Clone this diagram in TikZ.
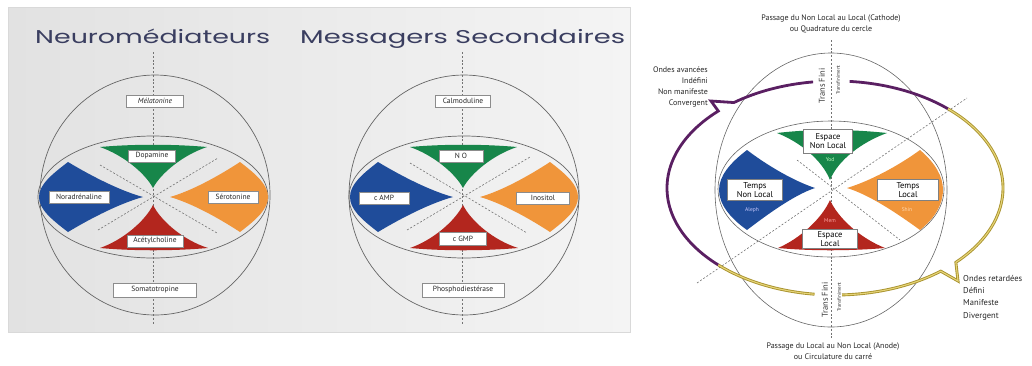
\documentclass[tikz,border=0pt]{standalone}
\usepackage{fontspec}
\usepackage{graphicx}
\setmainfont{PT Sans}
\newfontfamily\titlefont{Poppins}
\usetikzlibrary{calc}

\definecolor{titre}{HTML}{3A3E60}
\definecolor{colVert}{HTML}{17864A}
\definecolor{colBleu}{HTML}{1F4C9A}
\definecolor{colOrange}{HTML}{F0953A}
\definecolor{colRouge}{HTML}{B3261E}
\definecolor{fondG}{HTML}{E2E2E2}
\definecolor{fondD}{HTML}{F4F4F4}
\definecolor{violet}{HTML}{5A1F62}
\definecolor{ocreF}{HTML}{A8922E}
\definecolor{ocreC}{HTML}{E6D477}

\tikzset{
  trait/.style={draw=black!60, line width=0.7pt},
  axe/.style={draw=black!55, dash pattern=on 2pt off 1.8pt, line width=0.6pt},
  etiq/.style={draw=black!45, fill=white, line width=0.5pt, inner sep=1pt,
    minimum height=12pt, font=\fontsize{7.5}{8}\selectfont, text=black!85},
  etiqD/.style={draw=black!50, fill=white, line width=0.5pt, inner sep=1pt,
    align=center, font=\fontsize{8.5}{8.5}\selectfont, text=black},
  lettre/.style={font=\fontsize{5.5}{6}\selectfont, inner sep=0pt},
  texte/.style={font=\fontsize{8}{11}\selectfont, inner sep=0pt, text=black!85},
  vertic/.style={rotate=90, inner sep=0pt, text=black!80},
  avance/.style={draw=violet, line width=2.8pt},
  retard/.style={draw=ocreF, double=ocreC, double distance=1.1pt, line width=0.9pt}
}

\begin{document}
\begin{tikzpicture}[x=1pt, y=-1pt]
\useasboundingbox (0,0) rectangle (1032,365);

% fond gris des deux premiers schemas
\fill[left color=fondG, right color=fondD, draw=black!15] (8,7) rectangle (630,332);

% titres
\node[anchor=base west, inner sep=0pt, text=titre] (t1) at (35,43)
  {\resizebox{235pt}{\height}{\fontsize{18.5}{20}\titlefont Neuromédiateurs}};
\node[anchor=base west, inner sep=0pt, text=titre] (t2) at (300,43)
  {\resizebox{325pt}{\height}{\fontsize{18.5}{20}\titlefont Messagers Secondaires}};

% ---- Neuromediateurs ----
\begin{scope}[shift={(153,197)}]
  \draw[axe] (0,-145) -- (0,128);
  \draw[trait] (2,-2) ellipse [x radius=115, y radius=120];
  \draw[trait] (0,0) ellipse [x radius=115, y radius=61];
  \fill[colVert] (-53,-50) .. controls (-20,-53) and (20,-53) .. (54,-50)
    .. controls (30,-42) and (8,-24) .. (0,-9) .. controls (-8,-24) and (-30,-42) .. cycle;
  \fill[colRouge] (0,8) .. controls (8,24) and (30,43) .. (55,51)
    .. controls (20,54) and (-20,54) .. (-53,51) .. controls (-30,43) and (-8,24) .. cycle;
  \fill[colBleu] (-10,0) .. controls (-32,-6) and (-60,-20) .. (-85,-35)
    .. controls (-102,-22) and (-114,-12) .. (-114,0)
    .. controls (-114,12) and (-102,22) .. (-85,35)
    .. controls (-60,20) and (-32,6) .. cycle;
  \fill[colOrange] (17,0) .. controls (38,-6) and (64,-20) .. (87,-35)
    .. controls (104,-22) and (115,-12) .. (115,0)
    .. controls (115,12) and (104,22) .. (87,35)
    .. controls (64,20) and (38,6) .. cycle;
  \draw[axe] (-53,-32) -- (64,36);
  \draw[axe] (-55,33) -- (65,-39);
  \node[etiq, minimum width=57pt, font=\fontsize{7.5}{8}\selectfont\itshape] (mela) at (2,-96) {Mélatonine};
  \node[etiq, minimum width=47pt] (dopa) at (-1,-41) {Dopamine};
  \node[etiq, minimum width=60pt] (nora) at (-74,0) {Noradrénaline};
  \node[etiq, minimum width=50pt] (sero) at (80,0) {Sérotonine};
  \node[etiq, minimum width=56pt] (acet) at (2,44) {Acétylcholine};
  \node[etiq, minimum width=83pt, minimum height=14pt] (soma) at (2,93) {Somatotropine};
\end{scope}

% ---- Messagers secondaires ----
\begin{scope}[shift={(463,197)}]
  \draw[axe] (-1,-145) -- (-1,128);
  \draw[trait] (1,-2) ellipse [x radius=115, y radius=120];
  \draw[trait] (1,0) ellipse [x radius=115, y radius=61];
  \fill[colVert] (-53,-50) .. controls (-20,-53) and (20,-53) .. (54,-50)
    .. controls (30,-42) and (8,-24) .. (0,-9) .. controls (-8,-24) and (-30,-42) .. cycle;
  \fill[colRouge] (0,8) .. controls (8,24) and (30,43) .. (55,51)
    .. controls (20,54) and (-20,54) .. (-53,51) .. controls (-30,43) and (-8,24) .. cycle;
  \fill[colBleu] (-10,0) .. controls (-32,-6) and (-60,-20) .. (-85,-35)
    .. controls (-102,-22) and (-113,-12) .. (-113,0)
    .. controls (-113,12) and (-102,22) .. (-85,35)
    .. controls (-60,20) and (-32,6) .. cycle;
  \fill[colOrange] (17,0) .. controls (38,-6) and (64,-20) .. (87,-35)
    .. controls (104,-22) and (115,-12) .. (115,0)
    .. controls (115,12) and (104,22) .. (87,35)
    .. controls (64,20) and (38,6) .. cycle;
  \draw[axe] (-53,-34) -- (64,36);
  \draw[axe] (-56,33) -- (67,-40);
  \node[etiq, minimum width=55pt] (calm) at (0,-96) {Calmoduline};
  \node[etiq, minimum width=44pt] (no) at (-2,-41) {N O};
  \node[etiq, minimum width=50pt] (camp) at (-79,1) {c AMP};
  \node[etiq, minimum width=53pt] (inos) at (80,1) {Inositol};
  \node[etiq, minimum width=47pt, minimum height=13pt] (cgmp) at (0,42) {c GMP};
  \node[etiq, minimum width=82pt, minimum height=14pt] (phos) at (0,93) {Phosphodiestérase};
\end{scope}

% ---- Espace / Temps ----
\begin{scope}[shift={(830,188)}]
  \draw[axe] (1,-148) -- (1,150);
  \draw[trait, line width=0.6pt] (1,2) ellipse [x radius=116, y radius=137];
  \draw[trait, line width=0.6pt] (1,1) ellipse [x radius=113, y radius=68];
  \fill[colVert] (-53,-55) .. controls (-20,-59) and (20,-59) .. (57,-55)
    .. controls (32,-46) and (8,-28) .. (0,-8) .. controls (-8,-28) and (-30,-46) .. cycle;
  \fill[colRouge] (0,12) .. controls (8,30) and (30,50) .. (55,60)
    .. controls (20,63) and (-20,63) .. (-52,60) .. controls (-29,50) and (-8,30) .. cycle;
  \fill[colBleu] (-15,0) .. controls (-36,-7) and (-62,-22) .. (-83,-38)
    .. controls (-100,-25) and (-111,-12) .. (-111,2)
    .. controls (-111,16) and (-100,30) .. (-83,42)
    .. controls (-62,26) and (-36,7) .. cycle;
  \fill[colOrange] (17,0) .. controls (40,-7) and (68,-22) .. (90,-38)
    .. controls (105,-25) and (113,-12) .. (113,2)
    .. controls (113,16) and (105,30) .. (90,42)
    .. controls (68,26) and (40,7) .. cycle;
  \draw[axe] (-133,95) -- (137,-90);
  \draw[axe] (-33,-28) -- (70,52);
  \node[lettre, text=green!25!white] (yod) at (0,-28) {Yod};
  \node[lettre, text=blue!20!white] (aleph) at (-78,22) {Aleph};
  \node[lettre, text=orange!30!white] (shin) at (77,22) {Shin};
  \node[lettre, text=red!35!white] (mem) at (0,33) {Mem};
\end{scope}
\node[etiqD, minimum width=49pt, minimum height=24pt] (enl) at (828,141) {Espace\\Non Local};
\node[etiqD, minimum width=55pt, minimum height=21pt] (tnl) at (755,190) {Temps\\Non Local};
\node[etiqD, minimum width=61pt, minimum height=21pt] (tl) at (908,190) {Temps\\Local};
\node[etiqD, minimum width=55pt, minimum height=19pt] (el) at (830,239) {Espace\\Local};

% boucle des ondes
\begin{scope}[shift={(835,188)}]
  \draw[avance, line join=miter] (-97.5:168 and 107) arc[start angle=-97.5, end angle=-127, x radius=168, y radius=107]
    -- (-124,-87) -- (-134:168 and 107) arc[start angle=-134, end angle=-226, x radius=168, y radius=107];
  \draw[avance] (-85:168 and 107) arc[start angle=-85, end angle=-47.7, x radius=168, y radius=107];
  \draw[retard] (-226:168 and 107) arc[start angle=-226, end angle=-263, x radius=168, y radius=107];
  \draw[retard, line join=miter] (-272.4:168 and 107) arc[start angle=-272.4, end angle=-309, x radius=168, y radius=107]
    -- (123,93) -- (-316:168 and 107) arc[start angle=-316, end angle=-407.7, x radius=168, y radius=107];
\end{scope}

\node[vertic, font=\fontsize{8.5}{9}\selectfont] (tf1) at (822,86) {Trans Fini};
\node[vertic, font=\fontsize{5}{6}\selectfont] (tfm1) at (838,80) {Transfiniment};
\node[vertic, font=\fontsize{8.5}{9}\selectfont] (tf2) at (825,300) {Trans Fini};
\node[vertic, font=\fontsize{5}{6}\selectfont] (tfm2) at (839,297) {Transfiniment};

\node[texte, align=center] (cath) at (831,24) {Passage du Non Local au Local (Cathode)\\ou Quadrature du cercle};
\node[texte, align=center] (anod) at (833,351) {Passage du Local au Non Local (Anode)\\ou Circulature du carré};
\node[texte, align=right, anchor=north east] (avan) at (708,67) {Ondes avancées\\Indéfini\\Non manifeste\\Convergent};
\node[texte, align=left, anchor=north west, font=\fontsize{8.5}{12.3}\selectfont] (reta) at (963,275) {Ondes retardées\\Défini\\Manifeste\\Divergent};
\end{tikzpicture}
\end{document}
